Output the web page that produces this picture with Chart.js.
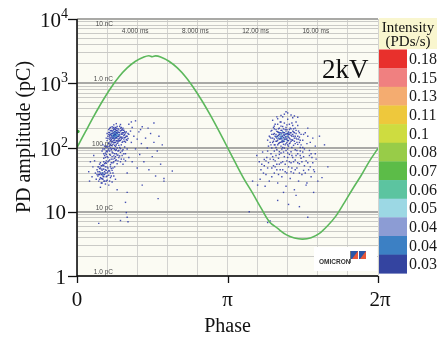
<!DOCTYPE html>
<html><head><meta charset="utf-8">
<script src="https://cdn.jsdelivr.net/npm/chart.js@4.4.1/dist/chart.umd.min.js"></script>
<style>html,body{margin:0;padding:0;background:#fff}#wrap{width:438px;height:337px;position:relative}</style>
</head><body><div id="wrap"><canvas id="c"></canvas></div>
<script>
// ---------- data ----------
const phaseTicks = [0, 180, 360];
const phaseTickLabels = ['0', 'π', '2π'];
const phaseGrid = [0, 36, 72, 108, 144, 180, 216, 252, 288, 324, 360];
const ampDecades = [1, 10, 100, 1000, 10000];
const ampDecadeLabels = [['1', ''], ['10', ''], ['10', '2'], ['10', '3'], ['10', '4']];
const gridAmpLabels = ['1.0 pC', '10 pC', '100 pC', '1.0 nC', '10 nC'];
const timeLabels = ['4.000 ms', '8.000 ms', '12.00 ms', '16.00 ms'];
const timePhases = [72, 144, 216, 288];
const intensityLevels = ['0.18', '0.15', '0.13', '0.11', '0.1', '0.08', '0.07', '0.06', '0.05', '0.04', '0.04', '0.03'];

const sinePhase = [0,10,20,30,40,50,60,70,80,86,90,94,100,110,120,130,140,150,160,170,180,190,200,210,220,230,240,250,260,270,280,290,300,310,320,330,340,350,360];
const sineAmp   = [100,175,305,515,830,1250,1730,2200,2560,2680,2590,2670,2560,2200,1730,1250,830,520,310,178,100,56,32,19.5,11.5,7.0,5.5,4.4,3.9,3.75,3.95,4.6,6.1,8.7,14,23,37,62,97];
const refPoint = [[1, 177]];

// PD pulses, level 0.03 (phase deg, pC)
const pd003 = [
[37,150],[38,172],[39,135],[39,198],[40,160],[40,128],[41,185],[41,145],[42,210],[42,138],[43,168],[43,122],[44,190],[44,152],[45,176],[45,131],[46,205],[46,158],[47,142],[47,184],[48,166],[48,125],[49,196],[49,148],[50,172],[50,136],[51,214],[51,157],[52,181],[52,129],[53,162],[53,145],[54,192],[54,139],[55,170],[55,124],[56,155],[56,186],[57,142],[58,168],[59,133],[60,150],[38,118],[44,225],[47,235],[52,228],[36,165],[42,178],[46,120],[50,188],[53,205],[57,176],[58,121],[61,138],[62,160],[35,140],[40,182],[43,200],[48,212],[55,200],[39,155],[41,118],[45,195],[49,130],[54,160],[58,145],[36,128],[51,140],[44,140],[47,170],
[37,138],[38,160],[38,190],[39,146],[39,170],[40,140],[40,205],[41,155],[41,132],[42,165],[42,125],[43,145],[43,185],[44,130],[44,205],[45,162],[45,120],[46,140],[46,190],[47,128],[47,200],[48,140],[48,185],[49,118],[49,175],[50,150],[50,125],[51,170],[51,128],[52,145],[52,200],[53,135],[53,185],[54,120],[54,170],[55,145],[55,185],[56,135],[56,170],[57,125],[57,158],[59,150],[59,175],[60,130],[61,165],
[31,110],[33,95],[34,82],[35,104],[36,72],[37,90],[38,115],[38,62],[39,78],[40,98],[41,66],[41,108],[42,85],[43,58],[43,112],[44,74],[45,94],[46,63],[46,104],[47,80],[48,56],[48,116],[49,88],[50,70],[51,100],[52,60],[52,84],[53,110],[54,75],[55,92],[56,66],[57,102],[58,80],[30,88],[32,68],[34,58],[36,100],[40,54],[44,118],[50,108],[55,55],[60,95],[62,70],[33,75],[37,60],[42,96],[45,68],[49,76],[35,88],[39,105],[47,92],
[31,95],[32,80],[33,105],[34,70],[35,62],[35,78],[36,86],[37,104],[37,70],[38,95],[39,64],[39,88],[40,76],[40,112],[41,92],[41,58],[42,72],[42,106],[43,82],[43,66],[44,96],[44,60],[45,80],[45,108],[46,72],[46,90],[47,64],[47,110],[48,76],[48,98],[49,62],[50,90],[51,74],[52,96],[53,66],[54,88],[56,80],[58,62],
[24,45],[25,36],[26,50],[26,30],[27,42],[28,34],[28,48],[29,38],[29,28],[30,44],[30,33],[31,40],[31,36],[32,46],[32,30],[33,42],[33,38],[34,50],[34,27],[35,35],[35,44],[36,40],[36,31],[37,48],[38,37],[38,26],[39,43],[40,34],[41,47],[42,29],[43,40],[44,36],[45,50],[46,32],[27,55],[30,52],[33,56],[22,40],[23,32],[28,24],[29,46],[31,32],[32,52],[30,38],[27,38],
[25,42],[26,38],[27,32],[27,47],[28,40],[29,52],[29,33],[30,28],[31,46],[31,54],[32,35],[33,30],[34,40],[34,45],[35,30],[36,50],[36,36],[37,42],[38,44],[39,30],[40,40],[40,50],[41,36],[42,44],[43,48],[25,50],[24,38],[28,58],[32,60],[35,57],
[14,42],[16,60],[18,35],[20,75],[15,30],[19,50],[21,62],
[62,230],[64,180],[65,120],[66,205],[68,150],[70,95],[70,260],[72,135],[74,175],[75,78],[77,115],[78,210],[80,60],[82,140],[84,98],[86,45],[88,165],[90,72],[92,120],[94,36],[96,88],[98,150],[100,55],[102,110],[104,30],[66,60],[72,48],[85,200],[92,240],[60,40],[65,250],[76,190],
[58,14],[59,9.7],[60,8.2],[61,7],[52,7.3],[26,6.6],[97,16],[78,26],[104,33],[114,43],[60,20],[48,22],
[230,150],[231,120],[232,180],[233,98],[234,140],[235,205],[235,125],[236,165],[237,110],[237,230],[238,145],[239,178],[239,92],[240,130],[241,195],[241,115],[242,160],[243,138],[243,250],[244,105],[244,185],[245,150],[246,122],[246,212],[247,170],[248,135],[248,98],[249,190],[250,148],[250,115],[251,225],[251,162],[252,128],[253,175],[253,105],[254,140],[255,200],[255,118],[256,155],[257,132],[257,240],[258,180],[259,108],[259,150],[260,125],[261,200],[261,92],[262,165],[263,135],[264,112],[265,180],[266,145],[267,100],[268,160],[234,265],[240,280],[246,300],[252,275],[258,290],[262,250],[236,88],[242,86],[250,90],[256,86],[228,130],[229,105],[264,220],[270,130],[247,142],[245,168],[243,120],[249,160],[251,140],[253,158],[255,135],[238,160],[240,150],[242,118],[244,135],[248,155],[252,110],[254,190],[236,195],[239,125],[241,172],[244,215],[247,112],[250,205],[253,128],[256,170],[259,195],[262,140],[233,160],[238,100],[245,95],[257,100],[266,120],[232,140],[260,170],
[231,145],[232,110],[233,185],[234,120],[235,160],[236,135],[236,215],[237,150],[238,125],[238,190],[239,140],[240,110],[240,175],[241,155],[242,135],[242,200],[243,170],[244,120],[245,185],[245,125],[246,150],[247,195],[247,125],[248,170],[249,110],[249,135],[250,180],[250,135],[251,120],[251,190],[252,165],[253,145],[254,115],[254,160],[255,170],[256,125],[256,195],[257,150],[258,130],[258,160],[259,175],[260,140],[261,115],[261,150],[262,185],[263,120],[264,150],[265,135],[266,170],[267,130],[244,250],[248,240],[254,230],[240,230],[258,220],[236,110],[252,95],[246,100],
[248,330],[252,345],[256,320],[244,315],[260,310],[239,300],[250,360],[264,295],
[215,75],[218,60],[220,45],[222,85],[224,52],[226,38],[227,70],[229,58],[230,30],[232,80],[233,48],[235,65],[236,40],[238,75],[239,55],[240,28],[241,68],[243,45],[244,82],[245,35],[246,60],[248,72],[249,42],[250,25],[251,62],[253,50],[254,78],[255,33],[256,58],[258,70],[259,40],[260,22],[261,64],[263,48],[264,80],[265,30],[266,56],[268,68],[269,38],[270,85],[272,52],[274,62],[275,28],[277,45],[278,75],[280,35],[282,58],[284,42],[286,66],[288,30],[219,32],[225,25],[283,20],[262,18],[247,20],[270,100],[275,115],[278,90],[282,140],[285,105],[273,170],[276,200],[280,80],[228,88],[234,72],[242,55],[252,70],[257,48],[267,75],[271,44],[224,65],[237,50],[263,90],
[221,55],[223,40],[226,62],[228,48],[231,66],[233,35],[235,52],[237,62],[239,45],[241,38],[242,78],[244,58],[246,45],[247,85],[249,55],[251,40],[252,82],[254,60],[256,42],[257,75],[259,60],[261,45],[262,75],[264,58],[266,40],[267,88],[269,60],[271,72],[273,40],[276,58],[279,50],[281,70],[283,45],[285,80],[268,110],[272,95],[279,120],[276,150],[271,160],
[206,10],[228,6.8],[231,7.2],[253,13],[276,8.2],[293,34],[274,26],[216,26],[300,50],[296,110],[210,30],[290,150],[240,15],[266,12]
];
// level 0.04
const pd004 = [
[44,160],[45,150],[46,168],[47,155],[48,172],[45,140],[43,155],[47,145],[49,160],[46,178],[42,150],[44,172],[48,150],[50,158],[30,40],[32,38],[41,165],[43,140],
[243,150],[245,140],[247,158],[249,145],[246,130],[250,165],[244,160],[241,140],[248,125],[252,150],[246,175],[242,170],[239,150],[251,132],[253,168],[244,142]
];
// level 0.05
const pd005 = [[45,158],[46,162],[47,156],[46,150],[44,152]];

// ---------- styles ----------
const intensityColors = ['#e8302c','#f08080','#f4ac70','#eec83c','#cedc40','#98cc48','#5cbc48','#5cc4a0','#9cd8e4','#8c9cd4','#3c80c4','#3444a0'];
const SERIF = '"Liberation Serif", "Times New Roman", serif';
const SANS = '"Liberation Sans", Arial, sans-serif';

const toXY = arr => arr.map(p => ({x: p[0], y: p[1]}));
const sineData = sinePhase.map((p, i) => ({x: p, y: sineAmp[i]}));
const minorAmp = [];
ampDecades.forEach((d, i) => {
  if (i === ampDecades.length - 1) { minorAmp.push(d); return; }
  for (let k = 1; k <= 9; k++) minorAmp.push(k * d);
});
const isDecade = v => Math.abs(Math.log10(v) - Math.round(Math.log10(v))) < 1e-9;

const deco = {
  id: 'deco',
  beforeDraw(chart) {
    const {ctx, chartArea: a} = chart;
    ctx.save();
    ctx.fillStyle = '#fbfbf3';
    ctx.fillRect(a.left, a.top, a.right - a.left, a.bottom - a.top);
    ctx.restore();
  },
  beforeDatasetsDraw(chart) {
    const {ctx, chartArea: a, scales: {x, y}} = chart;
    ctx.save();
    ctx.fillStyle = '#ffffff';
    ctx.fillRect(a.right - 64, a.bottom - 29, 63, 24);
    ctx.fillStyle = '#333';
    ctx.font = 'bold 6.5px ' + SANS;
    ctx.textAlign = 'left'; ctx.textBaseline = 'alphabetic';
    ctx.fillText('OMICRON', a.right - 59, a.bottom - 12);
    const lx = a.right - 27, ly = a.bottom - 25;
    ctx.strokeStyle = '#555'; ctx.lineWidth = 0.8;
    ctx.beginPath(); ctx.moveTo(lx - 0.5, ly); ctx.lineTo(lx - 0.5, ly + 12); ctx.stroke();
    [0, 8].forEach(dx => {
      ctx.fillStyle = '#2a56a8';
      ctx.fillRect(lx + dx, ly, 7, 8);
      ctx.fillStyle = '#e8583a';
      ctx.beginPath(); ctx.moveTo(lx + dx + 7, ly); ctx.lineTo(lx + dx + 7, ly + 8); ctx.lineTo(lx + dx + 1, ly + 8); ctx.closePath(); ctx.fill();
    });
    ctx.fillStyle = '#4a4a4a';
    ctx.font = '6.5px ' + SANS;
    ctx.textAlign = 'right';
    ampDecades.forEach((v, i) => {
      const py = y.getPixelForValue(v);
      const by = (i === ampDecades.length - 1) ? py + 7 : py - 2;
      ctx.fillText(gridAmpLabels[i], a.left + 36, by);
    });
    ctx.textAlign = 'center';
    timePhases.forEach((p, i) => {
      ctx.fillText(timeLabels[i], x.getPixelForValue(p) - 2, a.top + 14);
    });
    ctx.fillStyle = '#111';
    ctx.font = '27px ' + SERIF;
    ctx.textAlign = 'left';
    ctx.fillText('2kV', 322, 78);
    ctx.restore();
  },
  afterDraw(chart) {
    const {ctx, chartArea: a, scales: {x, y}} = chart;
    ctx.save();
    ctx.strokeStyle = '#111'; ctx.lineWidth = 1.6;
    ctx.beginPath();
    ctx.moveTo(a.left, a.top); ctx.lineTo(a.left, a.bottom); ctx.lineTo(a.right, a.bottom);
    ctx.stroke();
    ctx.lineWidth = 1.3;
    ampDecades.forEach(v => {
      const py = Math.round(y.getPixelForValue(v)) + 0.5;
      ctx.beginPath(); ctx.moveTo(a.left - 9, py); ctx.lineTo(a.left, py); ctx.stroke();
    });
    phaseTicks.forEach(v => {
      const px = Math.round(x.getPixelForValue(v)) + 0.5;
      ctx.beginPath(); ctx.moveTo(px, a.bottom); ctx.lineTo(px, a.bottom + 7); ctx.stroke();
    });
    ctx.fillStyle = '#111';
    ctx.textBaseline = 'alphabetic';
    ampDecades.forEach((v, i) => {
      const py = y.getPixelForValue(v);
      const [base, sup] = ampDecadeLabels[i];
      ctx.font = '21px ' + SERIF;
      const bw = ctx.measureText(base).width;
      if (sup) {
        ctx.font = '14px ' + SERIF;
        const sw = ctx.measureText(sup).width;
        const right = a.left - 9;
        ctx.fillText(sup, right - sw, py - 1);
        ctx.font = '21px ' + SERIF;
        ctx.fillText(base, right - sw - bw, py + 8);
      } else {
        ctx.fillText(base, a.left - 11 - bw, py + 7.5);
      }
    });
    ctx.font = '21px ' + SERIF;
    ctx.textAlign = 'center';
    phaseTicks.forEach((v, i) => {
      ctx.fillText(phaseTickLabels[i], x.getPixelForValue(v) + (i === 2 ? 2 : 0), a.bottom + 30);
    });
    ctx.font = '20px ' + SERIF;
    ctx.fillText('Phase', (a.left + a.right) / 2, 332);
    ctx.save();
    ctx.translate(25, 137);
    ctx.rotate(-Math.PI / 2);
    ctx.textBaseline = 'middle';
    ctx.fillText('PD amplitude (pC)', 0, 0);
    ctx.restore();
    const lx = a.right + 1, lw = 28;
    ctx.fillStyle = '#f9f6cf';
    ctx.fillRect(lx, 18, 58, 31);
    ctx.fillStyle = '#111';
    ctx.font = '15px ' + SERIF;
    ctx.textAlign = 'center';
    ctx.fillText('Intensity', lx + 29, 32);
    ctx.fillText('(PDs/s)', lx + 29, 46);
    const top = 49.5, h = 18.65;
    ctx.textAlign = 'left'; ctx.textBaseline = 'middle';
    ctx.font = '16px ' + SERIF;
    intensityLevels.forEach((lab, i) => {
      ctx.fillStyle = intensityColors[i];
      ctx.fillRect(lx, top + i * h, lw, h + 0.3);
      ctx.fillStyle = '#1a1a1a';
      ctx.fillText(lab, lx + lw + 2, top + i * h + h / 2 + 1);
    });
    ctx.restore();
  }
};

const scatterDs = (data, color, r) => ({
  type: 'scatter', data: toXY(data), pointRadius: r, pointStyle: 'rect',
  backgroundColor: color, borderWidth: 0, pointHoverRadius: r
});

new Chart(document.getElementById('c'), {
  type: 'scatter',
  data: {
    datasets: [
      { type: 'line', data: sineData, borderColor: '#5cb85c', borderWidth: 1.6, pointRadius: 0, tension: 0.35, fill: false },
      { type: 'scatter', data: toXY(refPoint), pointRadius: 1.8, backgroundColor: '#3aa83a', borderWidth: 0 },
      scatterDs(pd003, 'rgba(38,50,168,0.85)', 1.0),
      scatterDs(pd004, 'rgba(60,128,196,0.9)', 1.1),
      scatterDs(pd005, 'rgba(92,176,208,0.95)', 1.2)
    ]
  },
  options: {
    responsive: true, maintainAspectRatio: false, animation: false,
    layout: { padding: { left: 0, top: 19, right: 60, bottom: 0 } },
    plugins: { legend: { display: false }, tooltip: { enabled: false } },
    scales: {
      x: {
        type: 'linear', min: 0, max: 360,
        afterBuildTicks: s => { s.ticks = phaseGrid.map(v => ({value: v})); },
        afterFit: s => { s.height = 61; },
        ticks: { display: false },
        grid: { color: '#d3d3d0', lineWidth: 1, drawTicks: false },
        border: { display: false }
      },
      y: {
        type: 'logarithmic', min: 1, max: 10000,
        afterBuildTicks: s => { s.ticks = minorAmp.map(v => ({value: v, major: isDecade(v)})); },
        afterFit: s => { s.width = 77; },
        ticks: { display: false },
        grid: {
          color: c => (c.tick && isDecade(c.tick.value)) ? '#a9a9a6' : '#cacac6',
          lineWidth: c => (c.tick && isDecade(c.tick.value)) ? 2 : 1,
          drawTicks: false
        },
        border: { display: false }
      }
    }
  },
  plugins: [deco]
});
</script></body></html>
